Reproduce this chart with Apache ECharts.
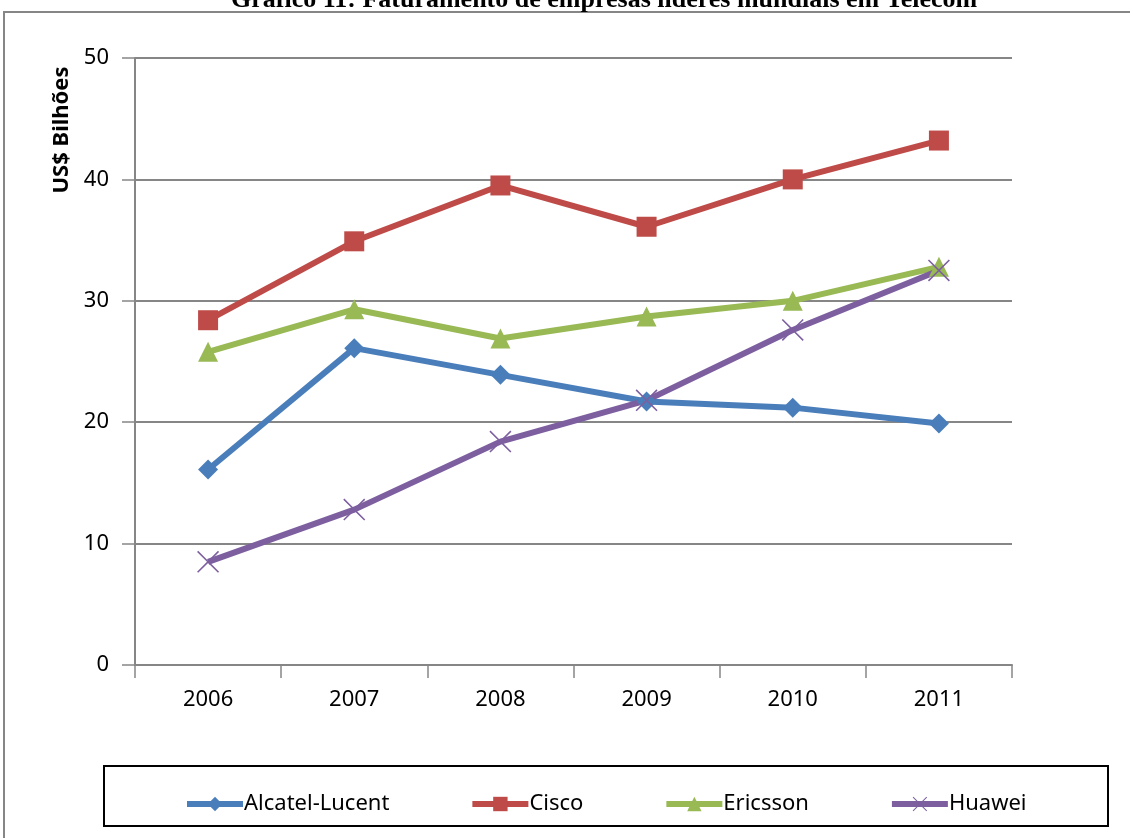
<!DOCTYPE html>
<html>
<head>
<meta charset="utf-8">
<script src="https://cdn.jsdelivr.net/npm/echarts@6/dist/echarts.min.js"></script>
<style>
  html, body { margin: 0; padding: 0; background: #fff; }
  #chart { width: 1130px; height: 838px; }
</style>
</head>
<body>
<div id="chart"></div>
<script>
// Faturamento anual (US$ bilhões) das líderes mundiais em telecom
const years = ['2006', '2007', '2008', '2009', '2010', '2011'];
const alcatelLucent = [16.1, 26.1, 23.9, 21.7, 21.2, 19.9];
const cisco = [28.4, 34.9, 39.5, 36.1, 40.0, 43.2];
const ericsson = [25.8, 29.3, 26.9, 28.7, 30.0, 32.8];
const huawei = [8.5, 12.8, 18.4, 21.8, 27.6, 32.5];

const FONT = 'Noto Sans, Liberation Sans, sans-serif';
const GRAY = '#868686';
const crossPath = 'path://M0,1 L1,0 L10,9 L19,0 L20,1 L11,10 L20,19 L19,20 L10,11 L1,20 L0,19 L9,10 Z';

function lineSeries(name, data, color, symbol, size) {
  return {
    name, type: 'line', data,
    symbol, symbolSize: size,
    lineStyle: { color, width: 6 },
    itemStyle: { color, borderWidth: 0 },
    emphasis: { disabled: true },
    z: 3
  };
}

const chart = echarts.init(document.getElementById('chart'), null, { renderer: 'canvas' });
chart.setOption({
  animation: false,
  backgroundColor: '#fff',
  title: {
    text: 'Gráfico 11: Faturamento de empresas líderes mundiais em Telecom',
    left: 226, top: -18,
    textStyle: { fontFamily: 'Liberation Serif, Times New Roman, serif', fontWeight: 'bold', fontSize: 26, color: '#000' }
  },
  grid: { left: 135, right: 118, top: 58, bottom: 173 },
  xAxis: {
    type: 'category', data: years, boundaryGap: true,
    axisLine: { lineStyle: { color: GRAY, width: 2 } },
    axisTick: { show: true, length: 13, lineStyle: { color: GRAY, width: 1.5 } },
    axisLabel: { color: '#000', fontFamily: FONT, fontSize: 22, margin: 24 }
  },
  yAxis: {
    type: 'value', min: 0, max: 50, interval: 10,
    axisLine: { show: true, lineStyle: { color: GRAY, width: 2 } },
    axisTick: { show: true, length: 13, lineStyle: { color: GRAY, width: 1.5 } },
    axisLabel: { color: '#000', fontFamily: FONT, fontSize: 22, margin: 26 },
    splitLine: { lineStyle: { color: GRAY, width: 2 } }
  },
  legend: {
    bottom: 18, left: 179,
    itemWidth: 56, itemHeight: 18, itemGap: 80,
    lineStyle: { width: 6 },
    textStyle: { fontFamily: FONT, fontSize: 22, color: '#000', padding: [0, 0, 0, -4] },
    data: ['Alcatel-Lucent', 'Cisco', 'Ericsson', 'Huawei']
  },
  graphic: [
    { type: 'rect', shape: { x: 4, y: 12, width: 1140, height: 840 },
      style: { fill: 'none', stroke: GRAY, lineWidth: 2 }, silent: true, z: -1 },
    { type: 'rect', shape: { x: 104, y: 766, width: 1004, height: 60 },
      style: { fill: 'none', stroke: '#000', lineWidth: 2 }, silent: true },
    { type: 'text', x: 62, y: 130, rotation: Math.PI / 2,
      style: { text: 'US$ Bilhões', fontFamily: FONT, fontWeight: 'bold', fontSize: 22,
               fill: '#000', align: 'center', verticalAlign: 'middle' } }
  ],
  series: [
    lineSeries('Alcatel-Lucent', alcatelLucent, '#4a7ebb', 'diamond', 20),
    lineSeries('Cisco', cisco, '#be4b48', 'rect', 20),
    lineSeries('Ericsson', ericsson, '#98b954', 'triangle', 20),
    lineSeries('Huawei', huawei, '#7d5fa0', crossPath, 22)
  ]
});
</script>
</body>
</html>
